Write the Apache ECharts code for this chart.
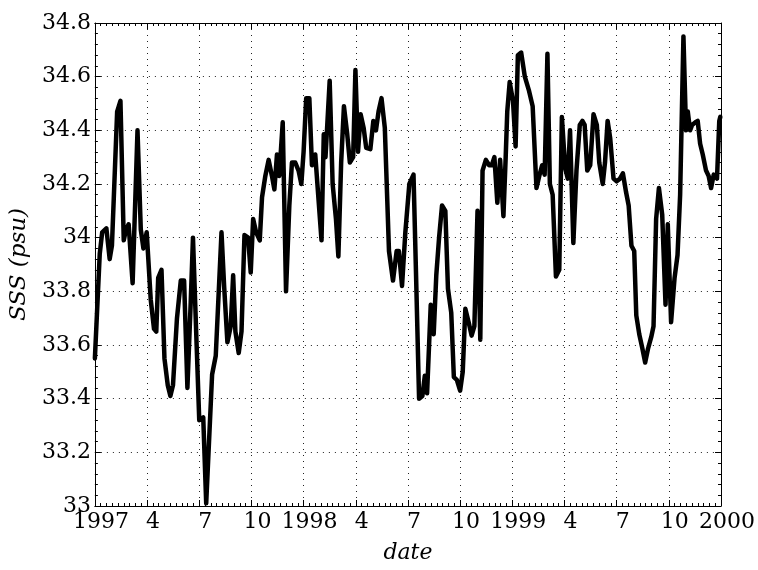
<!DOCTYPE html>
<html>
<head>
<meta charset="utf-8">
<script src="https://cdn.jsdelivr.net/npm/echarts@6/dist/echarts.min.js"></script>
<style>html,body{margin:0;padding:0;background:#fff;}#chart{width:758px;height:570px;}</style>
</head>
<body>
<div id="chart"></div>
<script>
// months since 1 Jan 1997
const months = [
0,0.28,0.42,0.66,0.85,0.98,1.28,1.47,1.66,1.79,1.94,2.17,2.45,2.64,2.79,2.98,3.21,3.40,3.53,3.64,3.83,4.00,4.19,4.34,4.49,4.72,4.94,5.13,5.32,5.51,5.64,5.85,6.00,6.23,6.40,
6.74,6.95,7.28,7.43,7.62,7.81,7.95,8.08,8.27,8.43,8.60,8.81,8.96,9.10,9.27,9.48,9.61,9.80,9.99,10.18,10.32,10.47,10.60,10.80,10.99,11.18,11.33,11.52,11.71,11.87,12.00,12.15,12.33,12.48,12.67,
13.03,13.16,13.26,13.50,13.67,13.86,14.00,14.16,14.32,14.51,14.66,14.85,14.98,15.13,15.28,15.45,15.60,15.84,16.01,16.16,16.31,16.48,16.67,16.91,17.14,17.35,17.48,17.66,17.85,18.08,18.32,18.47,18.64,18.83,
18.97,19.10,19.31,19.48,19.63,19.79,19.96,20.15,20.30,20.49,20.64,20.81,21.00,21.15,21.30,21.49,21.66,21.82,22.00,22.16,22.29,22.48,22.67,22.82,22.97,23.14,23.30,23.49,23.62,23.71,23.85,24.04,24.19,24.32,24.51,24.72,24.95,25.17,
25.39,25.57,25.72,25.86,26.02,26.16,26.32,26.51,26.70,26.85,27.04,27.19,27.32,27.51,27.69,27.88,28.03,28.16,28.31,28.48,28.67,28.86,29.00,29.20,29.33,29.48,29.63,29.82,30.00,30.19,30.36,30.54,30.69,30.85,31.01,31.13,
31.30,31.47,31.64,31.80,31.99,32.12,32.27,32.43,32.62,32.81,32.94,33.13,33.33,33.50,33.65,33.84,33.99,34.09,34.22,34.34,34.53,34.66,34.80,34.95,35.14,35.29,35.43,35.58,35.77,35.90,35.96
];
const sss = [
33.55,33.94,34.02,34.035,33.92,33.97,34.47,34.51,33.99,34.03,34.05,33.83,34.40,34.03,33.96,34.02,33.77,33.66,33.65,33.85,33.88,33.55,33.45,33.41,33.45,33.70,33.84,33.84,33.44,33.76,34.00,33.60,33.32,33.33,33.01,
33.49,33.56,34.02,33.82,33.61,33.67,33.86,33.65,33.57,33.65,34.01,34.00,33.87,34.07,34.02,33.99,34.15,34.23,34.29,34.23,34.18,34.31,34.23,34.43,33.80,34.12,34.28,34.28,34.25,34.20,34.32,34.52,34.52,34.27,34.31,
33.99,34.385,34.30,34.585,34.20,34.07,33.93,34.28,34.49,34.385,34.28,34.30,34.625,34.32,34.46,34.41,34.335,34.33,34.435,34.40,34.47,34.52,34.41,33.95,33.84,33.95,33.95,33.82,34.02,34.20,34.235,33.85,33.40,33.41,
33.485,33.42,33.75,33.64,33.86,34.00,34.12,34.10,33.81,33.72,33.48,33.47,33.43,33.50,33.735,33.685,33.635,33.67,34.10,33.62,34.25,34.29,34.27,34.27,34.30,34.13,34.29,34.08,34.30,34.47,34.58,34.51,34.34,34.68,34.69,34.60,34.55,34.49,
34.185,34.235,34.27,34.235,34.685,34.20,34.16,33.855,33.88,34.45,34.26,34.22,34.40,33.98,34.25,34.42,34.435,34.42,34.25,34.27,34.46,34.42,34.28,34.20,34.28,34.435,34.37,34.22,34.21,34.22,34.24,34.17,34.12,33.97,33.95,33.71,
33.64,33.59,33.535,33.585,33.63,33.67,34.07,34.185,34.085,33.75,34.05,33.685,33.85,33.935,34.16,34.75,34.40,34.47,34.40,34.42,34.43,34.435,34.35,34.31,34.25,34.23,34.185,34.235,34.22,34.435,34.45
];
const xTickLabels = ['1997','4','7','10','1998','4','7','10','1999','4','7','10','2000'];
const yMin = 33, yMax = 34.8, yStep = 0.2;
const xMin = 0, xMax = 36, xStep = 3;

const FONT = '"DejaVu Serif", "Liberation Serif", serif';
const chart = echarts.init(document.getElementById('chart'), null, {renderer: 'canvas'});
const lineCol = '#000';
const commonX = {
  type: 'value', min: xMin, max: xMax, interval: xStep,
  axisLine: {show: true, onZero: false, lineStyle: {color: lineCol, width: 1}},
  axisTick: {show: true, inside: true, length: 6, lineStyle: {color: lineCol}},
  minorTick: {show: true, splitNumber: 9, length: 3, lineStyle: {color: lineCol}}
};
const commonY = {
  type: 'value', min: yMin, max: yMax, interval: yStep,
  axisLine: {show: true, onZero: false, lineStyle: {color: lineCol, width: 1}},
  axisTick: {show: true, inside: true, length: 6, lineStyle: {color: lineCol}},
  minorTick: {show: true, splitNumber: 5, length: 3, lineStyle: {color: lineCol}}
};
chart.setOption({
  animation: false,
  backgroundColor: '#fff',
  grid: {left: 93, right: 30, top: 23, bottom: 64, containLabel: false},
  xAxis: [
    Object.assign({}, commonX, {
      position: 'bottom',
      name: 'date', nameLocation: 'middle', nameGap: 36,
      nameTextStyle: {fontFamily: FONT, fontStyle: 'italic', fontSize: 22, color: '#000'},
      axisLabel: {fontFamily: FONT, fontSize: 22, color: '#000', margin: 5,
        padding: [0, 0, 0, 12],
        formatter: v => xTickLabels[Math.round(v / xStep)]},
      splitLine: {show: true, lineStyle: {color: '#222', width: 1, type: [1, 5]}}
    }),
    Object.assign({}, commonX, {
      position: 'top', axisLabel: {show: false}, splitLine: {show: false}
    })
  ],
  yAxis: [
    Object.assign({}, commonY, {
      position: 'left',
      name: 'SSS (psu)', nameLocation: 'middle', nameGap: 57, nameRotate: 90,
      nameTextStyle: {fontFamily: FONT, fontStyle: 'italic', fontSize: 23, color: '#000'},
      axisLabel: {fontFamily: FONT, fontSize: 22, color: '#000', margin: 4,
        formatter: v => String(+v.toFixed(1))},
      splitLine: {show: true, lineStyle: {color: '#222', width: 1, type: [1, 5]}}
    }),
    Object.assign({}, commonY, {
      position: 'right', axisLabel: {show: false}, splitLine: {show: false}
    })
  ],
  series: [{
    type: 'line',
    xAxisIndex: 0, yAxisIndex: 0,
    data: months.map((m, i) => [m, sss[i]]),
    showSymbol: false, symbol: 'none',
    lineStyle: {color: '#000', width: 4.5, join: 'round', cap: 'round'},
    clip: true
  }]
});
</script>
</body>
</html>
